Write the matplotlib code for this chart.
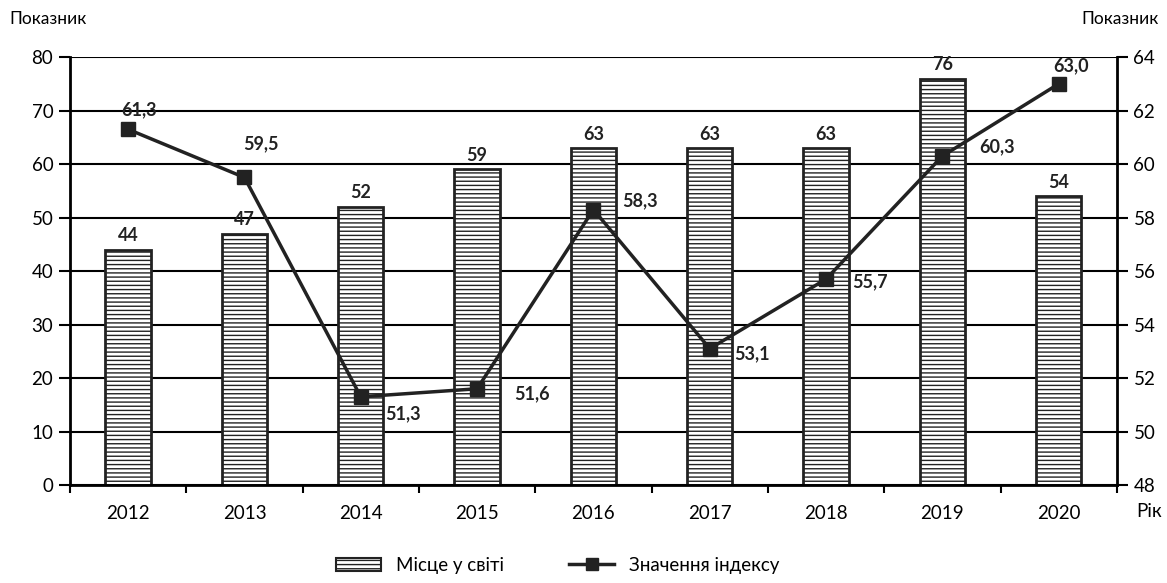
import matplotlib.pyplot as plt
import matplotlib.patches as mpatches
import matplotlib.lines as mlines

plt.rcParams['font.family'] = ['Lato', 'DejaVu Sans']
plt.rcParams['hatch.linewidth'] = 1.0
plt.rcParams['hatch.color'] = '#333333'

years = ['2012', '2013', '2014', '2015', '2016', '2017', '2018', '2019', '2020']
place = [44, 47, 52, 59, 63, 63, 63, 76, 54]
index_value = [61.3, 59.5, 51.3, 51.6, 58.3, 53.1, 55.7, 60.3, 63.0]
index_labels = ['61,3', '59,5', '51,3', '51,6', '58,3', '53,1', '55,7', '60,3', '63,0']
# label offsets in pixels from the marker
label_offsets = [(11, 20), (16, 34), (42, -17), (55, -5), (47, 9),
                 (42, -5), (44, -3), (55, 9), (12, 18)]

fig = plt.figure(figsize=(11.67, 5.83), dpi=100)
ax = fig.add_axes([0.06, 0.168, 0.897, 0.734])
x = list(range(len(years)))

# grid behind bars
ax.set_axisbelow(True)
ax.yaxis.grid(True, color='black', linewidth=1.5)

bars = ax.bar(x, place, width=0.39, color='white', edgecolor='#222222',
              linewidth=2, hatch='----', zorder=2)
for xi, v in zip(x, place):
    ax.annotate(str(v), (xi, v), xytext=(0, 4), textcoords='offset points',
                ha='center', va='bottom', fontsize=13, fontweight='bold',
                color='#222222')

ax.set_xlim(-0.5, 8.5)
ax.set_ylim(0, 80)
ax.set_yticks(range(0, 81, 10))
ax.set_xticks(x)
ax.set_xticklabels(years)
ax.set_xticks([i - 0.5 for i in range(len(years) + 1)], minor=True)
ax.tick_params(axis='x', which='major', length=0, pad=14, labelsize=13.5)
ax.tick_params(axis='x', which='minor', length=6, width=1.5, direction='out')
ax.tick_params(axis='y', length=8, width=1.5, direction='out', labelsize=13.5, pad=4)
for s in ['left', 'bottom']:
    ax.spines[s].set_linewidth(2)
ax.spines['top'].set_visible(False)
ax.spines['right'].set_visible(False)

ax2 = ax.twinx()
ax2.set_ylim(48, 64)
ax2.set_yticks(range(48, 65, 2))
ax2.tick_params(axis='y', length=8, width=1.5, direction='out', labelsize=13.5, pad=4)
ax2.spines['right'].set_linewidth(2)
for s in ['left', 'top', 'bottom']:
    ax2.spines[s].set_visible(False)
ax2.plot(x, index_value, color='#222222', linewidth=2.5, marker='s',
         markersize=10, markerfacecolor='#222222', zorder=3)
for xi, v, lab, off in zip(x, index_value, index_labels, label_offsets):
    ax2.annotate(lab, (xi, v), xytext=off, textcoords='offset pixels',
                 ha='center', va='center', fontsize=13, fontweight='bold',
                 color='#222222')

fig.text(0.008, 0.968, 'Показник', fontsize=12.5, ha='left', va='center')
fig.text(0.993, 0.968, 'Показник', fontsize=12.5, ha='right', va='center')
fig.text(0.974, 0.122, 'Рік', fontsize=13.5, ha='left', va='center')

h_bar = mpatches.Patch(facecolor='white', edgecolor='#222222', hatch='----',
                       linewidth=1.5, label='Місце у світі')
h_line = mlines.Line2D([], [], color='#222222', linewidth=2.5, marker='s',
                       markersize=9, label='Значення індексу')
fig.legend(handles=[h_bar, h_line], loc='center', bbox_to_anchor=(0.478, 0.03),
           ncol=2, frameon=False, fontsize=13.5, columnspacing=3.5,
           handlelength=2.4)

fig.savefig('out.png', dpi=100)
